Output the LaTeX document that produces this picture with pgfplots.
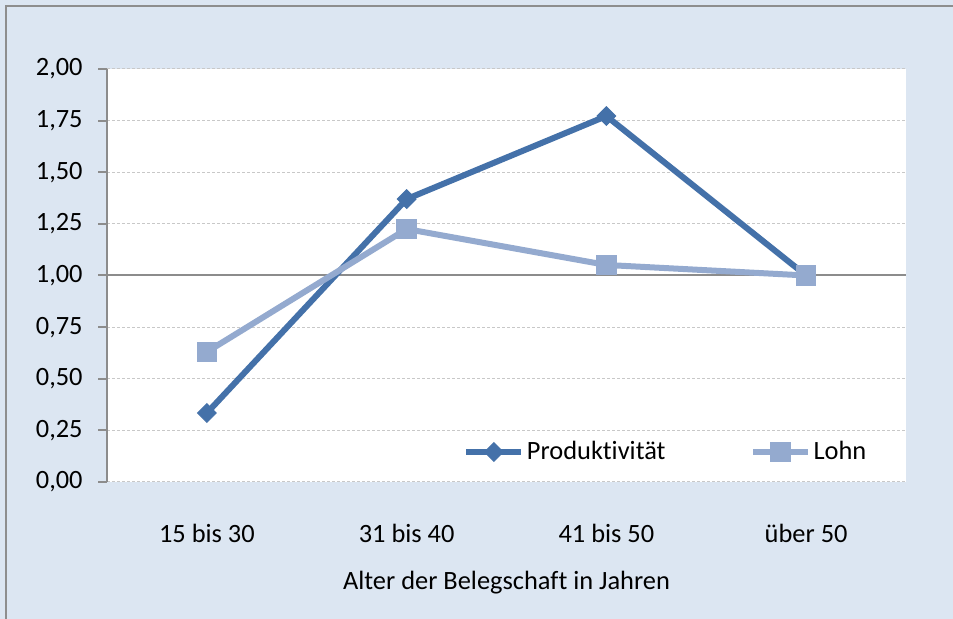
\documentclass[border=0pt]{standalone}
\usepackage{fontspec}
\setmainfont{Carlito}[Ligatures=NoCommon]
\usepackage{pgfplots}
\pgfplotsset{compat=1.18}
\definecolor{bgblue}{HTML}{DCE6F2}
\definecolor{frame}{HTML}{8E8E8E}
\definecolor{prod}{HTML}{4471A9}
\definecolor{lohn}{HTML}{94AACF}
\definecolor{gridc}{HTML}{C8C8C8}
\definecolor{axisc}{HTML}{8C8C8C}
\begin{document}
\fontsize{13.2pt}{15pt}\selectfont
\begin{tikzpicture}
\useasboundingbox (0,0) rectangle (476.5pt,309.5pt);
\fill[bgblue] (0,-5pt) rectangle (482pt,309.5pt);
\fill[white] (53.5pt,68.5pt) rectangle (453pt,275pt);
\begin{axis}[
  at={(53.5pt,68.5pt)}, anchor=south west,
  scale only axis, width=399.5pt, height=206.5pt,
  xmin=-0.5, xmax=3.5, ymin=0, ymax=2,
  xtick={0,1,2,3},
  xticklabels={15 bis 30, 31 bis 40, 41 bis 50, über 50},
  ytick={0,0.25,...,2},
  axis x line=bottom, axis y line=left,
  x axis line style={draw=none},
  y axis line style={-, draw=axisc, line width=1pt},
  xtick style={draw=none},
  ytick style={draw=axisc, line width=1pt},
  tick align=outside, major tick length=4.5pt,
  ymajorgrids, grid style={gridc, line width=0.5pt, dash pattern=on 1.5pt off 1pt},
  yticklabel style={anchor=base east, inner sep=0pt, xshift=-7.5pt, yshift=-3.5pt,
    /pgf/number format/.cd, fixed, fixed zerofill, precision=2, use comma, assume math mode=true},
  xticklabel style={anchor=base, inner sep=0pt, yshift=-26pt},
  xlabel={Alter der Belegschaft in Jahren},
  xlabel style={at={(axis description cs:0.5,0)}, anchor=base, inner sep=0pt, yshift=-54pt},
  clip=false,
  legend columns=2,
  legend style={at={(rel axis cs:0.4456,0.0726)}, anchor=west, draw=none, fill=none,
    inner xsep=0pt, inner ysep=0pt, nodes={inner sep=1.25pt},
    /tikz/every even column/.append style={column sep=41pt}},
  legend cell align=left,
  legend image code/.code={\draw[mark repeat=2,mark phase=2,#1] plot coordinates {(0pt,0pt) (13.75pt,0pt) (27.5pt,0pt)};},
]
\addplot[axisc, line width=1pt, forget plot] coordinates {(-0.5,1) (3.5,1)};
\addplot[prod, line width=3pt, mark=square*, mark size=3.3pt, mark options={rotate=45, line width=0.5pt, fill=prod}]
  coordinates {(0,0.334) (1,1.370) (2,1.772) (3,1.00)};
\addlegendentry{Produktivität}
\addplot[lohn, line width=3pt, mark=square*, mark size=4.9pt, mark options={line width=0.5pt, fill=lohn}]
  coordinates {(0,0.630) (1,1.225) (2,1.051) (3,1.00)};
\addlegendentry{Lohn}
\end{axis}
\fill[bgblue] (453.5pt,-5pt) rectangle (482pt,309.5pt);
\draw[frame, line width=1pt] (3pt,-5pt) -- (3pt,306.5pt) -- (482pt,306.5pt);
\end{tikzpicture}
\end{document}
